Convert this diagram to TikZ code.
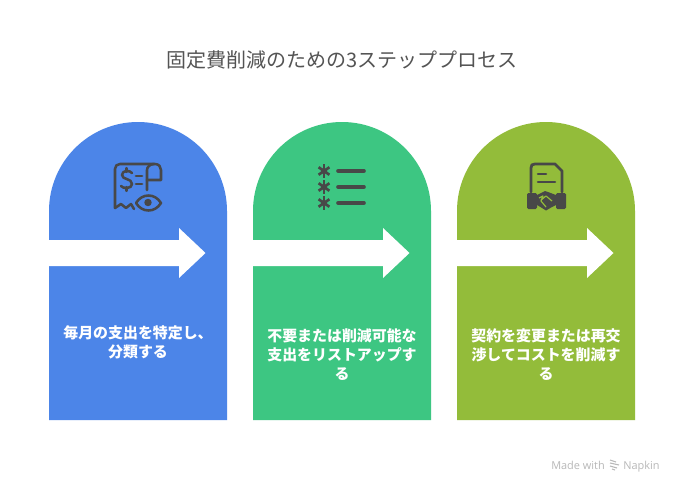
\documentclass[tikz,border=0pt]{standalone}
\usepackage{fontspec}
\setmainfont{Noto Sans CJK JP}
\newfontfamily\wmfont{Open Sans}
\definecolor{cblue}{HTML}{4C85E8}
\definecolor{cgreen}{HTML}{3DC682}
\definecolor{colive}{HTML}{93BC3A}
\definecolor{icon}{HTML}{484848}
\definecolor{titlec}{HTML}{545454}
\definecolor{wm}{HTML}{B8B8B8}
\tikzset{
  x=0.75pt,y=-0.75pt,
  steptext/.style={text=white,font=\fontsize{11.2}{14.4}\selectfont\bfseries,align=center,text width=125pt,inner sep=0pt},
  arrowshape/.style={fill=white,draw=none},
  ic/.style={draw=icon,line width=1.9pt,line cap=round,line join=round,fill=none},
}
\newcommand{\archcol}[2]{%
  \fill[#2] (#1,420) -- (#1,211) arc[start angle=180,end angle=0,radius=66.75pt] -- (#1+178,420) -- cycle;
  \fill[arrowshape] (#1,240) -- (#1+130,240) -- (#1+130,228) -- (#1+156.5,253) -- (#1+130,278) -- (#1+130,266) -- (#1,266) -- cycle;
}
\newcommand{\astr}[2]{%
  \fill[icon] (#1,#2) circle[radius=2.2pt];
  \foreach \a in {90,35,145} {\draw[icon,line width=2pt] ({#1+6.6*cos(\a)},{#2+6.6*sin(\a)}) -- ({#1-6.6*cos(\a)},{#2-6.6*sin(\a)});}
}
\begin{document}
\begin{tikzpicture}
\useasboundingbox (0,0) rectangle (684,493);
\fill[white] (0,0) rectangle (684,493);
\node[text=titlec,font=\fontsize{15}{18}\selectfont,inner sep=0pt] (title) at (342,59.5) {固定費削減のための3ステッププロセス};
\archcol{49}{cblue}
\archcol{253}{cgreen}
\archcol{457}{colive}
% icon 1: receipt with eye
\draw[ic] (115,208) -- (115,169) .. controls (115,166) and (117,164) .. (120,164) -- (155,164) .. controls (159,164) and (161,167) .. (161,170) -- (161,180) -- (147,180);
\draw[ic] (147,190) -- (147,170) .. controls (147,167) and (150,164) .. (154,164);
\draw[ic] (115,208) -- (121,204) -- (126,208) -- (131,204) -- (134,209);
\draw[ic,line width=1.9pt] (132,173) .. controls (130,170) and (122,170) .. (122,175) .. controls (122,180) and (132,178) .. (132,184) .. controls (132,189) and (123,189) .. (121,186);
\draw[ic,line width=1.6pt] (126.5,168) -- (126.5,172) (126.5,187) -- (126.5,191);
\draw[ic,line width=2.1pt] (136,176) -- (142,176) (136,184) -- (142,184);
\draw[ic] (136,203) .. controls (142,193) and (155,193) .. (161,203) .. controls (155,213) and (142,213) .. (136,203) -- cycle;
\fill[icon] (148,202.5) circle[radius=2.8pt];
% icon 2: checklist of stars
\astr{324}{171}\astr{324}{187}\astr{324}{203}
\draw[ic,line width=2.7pt] (338,171) -- (364,171) (338,187) -- (364,187) (338,203) -- (364,203);
% icon 3: contract with handshake
\draw[ic,line width=2.1pt] (531,192) -- (531,168) .. controls (531,165) and (532,164) .. (535,164) -- (555,164) -- (562,171) -- (562,192);
\draw[ic] (538,174) -- (546,174) (538,182) -- (555,182);
\fill[icon,rounded corners=1pt] (527,193) rectangle (537,209);
\fill[icon,rounded corners=1pt] (556,193) rectangle (566,209);
\fill[icon] (537,195) -- (545,191) -- (548,192) -- (556,195) -- (556,205) -- (552,207) -- (546,210.5) -- (542,208) -- (537,205) -- cycle;
\draw[colive,line width=0.9pt,line join=round] (539,198) -- (543,196) -- (541,201) -- (546,207);
\draw[colive,line width=0.9pt,line join=round] (541,200) -- (546,196) -- (552,201);
% texts
\node[steptext] (t1) at (138,342) {毎月の支出を特定し、\\分類する};
\node[steptext] (t2) at (342,354.5) {不要または削減可能な\\支出をリストアップす\\る};
\node[steptext] (t3) at (546,354.5) {契約を変更または再交\\渉してコストを削減す\\る};
% watermark
\node[text=wm,font=\wmfont\fontsize{8.2}{10}\selectfont,anchor=base west,inner sep=0pt] (wm1) at (551,469) {Made with};
\node[text=wm,font=\wmfont\fontsize{8.2}{10}\selectfont,anchor=base west,inner sep=0pt] (wm2) at (623,469) {Napkin};
\draw[wm,line width=0.8pt] (610,460) -- (616,462) (610,463) -- (619,465) (610,466) -- (617,468) (612,469) -- (615,470);
\end{tikzpicture}
\end{document}
